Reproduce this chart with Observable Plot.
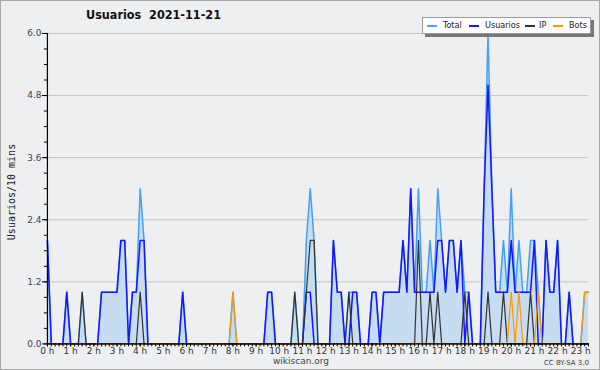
<!DOCTYPE html>
<html><head><meta charset="utf-8">
<script src="https://cdn.jsdelivr.net/npm/d3@7"></script>
<script src="https://cdn.jsdelivr.net/npm/@observablehq/plot@0.6"></script>
<style>
body{margin:0;background:#fff;}
#wrap{position:relative;width:600px;height:370px;background:#eeeff1;box-sizing:border-box;border:1px solid #a8a8a8;overflow:hidden;font-family:"DejaVu Sans",sans-serif;color:#333;}
#chart{position:absolute;left:-1px;top:-1px;}
#title{position:absolute;left:85px;top:6px;font:bold 12.5px "DejaVu Sans Condensed","DejaVu Sans",sans-serif;font-stretch:condensed;color:#111;white-space:pre;}
#ylab{position:absolute;left:10px;top:191px;transform:translate(-50%,-50%) rotate(-90deg);font:10px "DejaVu Sans Mono",monospace;color:#222;white-space:nowrap;}
#legend{position:absolute;left:421px;top:16px;width:167px;height:15px;background:#fff;border:1px solid #999;box-shadow:3px 3px 0 #777;}
.li{position:absolute;top:7px;width:10px;height:1.5px;}
.lt{position:absolute;top:1.5px;font:9px "DejaVu Sans Condensed","DejaVu Sans",sans-serif;font-stretch:condensed;color:#222;}
#site{position:absolute;left:0;width:600px;top:355px;text-align:center;font:9px "DejaVu Sans",sans-serif;color:#444;}
#cc{position:absolute;right:10px;top:358px;font:7px "DejaVu Sans",sans-serif;color:#444;}
</style></head>
<body><div id="wrap">
<div id="chart"></div>
<div id="title">Usuarios  2021-11-21</div>
<div id="ylab">Usuarios/10 mins</div>
<div id="legend">
 <span class="li" style="left:4px;background:#4aa3f0"></span><span class="lt" style="left:20px">Total</span>
 <span class="li" style="left:46px;background:#1515ff"></span><span class="lt" style="left:62px">Usuarios</span>
 <span class="li" style="left:102px;background:#333"></span><span class="lt" style="left:116px">IP</span>
 <span class="li" style="left:130px;background:#ff9900"></span><span class="lt" style="left:146px">Bots</span>
</div>
<div id="site">wikiscan.org</div>
<div id="cc">CC BY-SA 3.0</div>
</div>
<script>
// 10-minute slots from 00:00 (index 0) to 23:20 (index 140)
const total = [2,0,0,0,0,1,0,0,0,1, 0,0,0,0,1,1,1,1,1,2, 2,0,1,1,3,2,0,0,0,0,
  0,0,0,0,0,1,0,0,0,0, 0,0,0,0,0,0,0,0,1,0, 0,0,0,0,0,0,0,1,1,0,
  0,0,0,0,1,0,0,2,3,2, 0,0,0,0,2,1,1,0,1,1, 1,0,0,0,1,1,0,1,1,1,
  1,1,2,1,3,1,3,1,1,2, 1,3,2,1,2,2,1,2,1,1, 0,0,0,3,6,3,1,1,2,1,
  3,1,2,1,1,2,2,1,0,2, 1,1,2,0,0,1,0,0,0,1, 1];
const usuarios = [2,0,0,0,0,1,0,0,0,0, 0,0,0,0,1,1,1,1,1,2, 2,0,1,1,2,2,0,0,0,0,
  0,0,0,0,0,1,0,0,0,0, 0,0,0,0,0,0,0,0,0,0, 0,0,0,0,0,0,0,1,1,0,
  0,0,0,0,0,0,0,1,1,0, 0,0,0,0,2,1,1,0,0,1, 1,0,0,0,1,1,0,1,1,1,
  1,1,2,1,3,1,1,1,1,1, 1,2,2,1,2,2,1,2,0,1, 0,0,0,3,5,3,1,1,1,1,
  2,1,1,1,1,1,2,0,0,2, 1,1,2,0,0,1,0,0,0,0, 0];
const ip = [0,0,0,0,0,0,0,0,0,1, 0,0,0,0,0,0,0,0,0,0, 0,0,0,0,1,0,0,0,0,0,
  0,0,0,0,0,0,0,0,0,0, 0,0,0,0,0,0,0,0,0,0, 0,0,0,0,0,0,0,0,0,0,
  0,0,0,0,1,0,0,1,2,2, 0,0,0,0,0,0,0,0,1,0, 0,0,0,0,0,0,0,0,0,0,
  0,0,0,0,0,0,2,0,0,1, 0,1,0,0,0,0,0,0,1,0, 0,0,0,0,1,0,0,0,1,0,
  0,0,0,0,0,1,0,0,0,0, 0,0,0,0,0,0,0,0,0,0, 0];
const bots = [0,0,0,0,0,0,0,0,0,0, 0,0,0,0,0,0,0,0,0,0, 0,0,0,0,0,0,0,0,0,0,
  0,0,0,0,0,0,0,0,0,0, 0,0,0,0,0,0,0,0,1,0, 0,0,0,0,0,0,0,0,0,0,
  0,0,0,0,0,0,0,0,0,0, 0,0,0,0,0,0,0,0,0,0, 0,0,0,0,0,0,0,0,0,0,
  0,0,0,0,0,0,0,0,0,0, 0,0,0,0,0,0,0,0,0,0, 0,0,0,0,0,0,0,0,0,0,
  1,0,1,0,0,0,0,1,0,0, 0,0,0,0,0,0,0,0,0,1, 1];
const hourLabels = d3.range(0, 24).map(h => `${h} h`);
const yTicks = [0, 1.2, 2.4, 3.6, 4.8, 6.0];

const rows = total.map((t, i) => ({i, total: t, usuarios: usuarios[i], ip: ip[i], bots: bots[i]}));
const hourTicks = hourLabels.map((_, h) => h * 6);
const minorX = d3.range(0, total.length);
const minorY = d3.range(0, 21).map(k => k * 0.3);

const plot = Plot.plot({
  width: 600, height: 370,
  marginLeft: 47, marginRight: 11, marginTop: 33, marginBottom: 26,
  style: {background: "transparent", fontFamily: "DejaVu Sans, sans-serif", fontSize: "9px", color: "#333"},
  x: {domain: [0, total.length - 1]},
  y: {domain: [0, 6]},
  marks: [
    Plot.gridY(yTicks, {stroke: "#c4c4c4", strokeOpacity: 1}),
    Plot.areaY(rows, {x: "i", y: "total", fill: "#c6dcf0", fillOpacity: 1}),
    Plot.lineY(rows, {x: "i", y: "total", stroke: "#45a0f2", strokeWidth: 1.5}),
    Plot.lineY(rows, {x: "i", y: "usuarios", stroke: "#1515ff", strokeWidth: 1.5}),
    Plot.lineY(rows, {x: "i", y: "ip", stroke: "#333", strokeWidth: 1.2}),
    Plot.lineY(rows, {x: "i", y: "bots", stroke: "#ff9900", strokeWidth: 1.2}),
    Plot.axisY(minorY, {tickSize: 3, tickFormat: () => "", stroke: "#000", label: null}),
    Plot.axisY(yTicks, {tickSize: 5, tickPadding: 1, tickFormat: d => d.toFixed(1), stroke: "#000", fill: "#444", label: null}),
    Plot.axisX(minorX, {tickSize: 3, tickFormat: () => "", stroke: "#000", label: null}),
    Plot.axisX(hourTicks, {tickSize: 3, tickPadding: 1, tickFormat: d => hourLabels[d / 6], stroke: "#000", fill: "#333", label: null}),
    Plot.ruleX([0], {stroke: "#000", strokeWidth: 1.2}),
    Plot.ruleY([0], {stroke: "#000", strokeWidth: 1.2})
  ]
});
document.getElementById("chart").appendChild(plot);
</script>
</body></html>
